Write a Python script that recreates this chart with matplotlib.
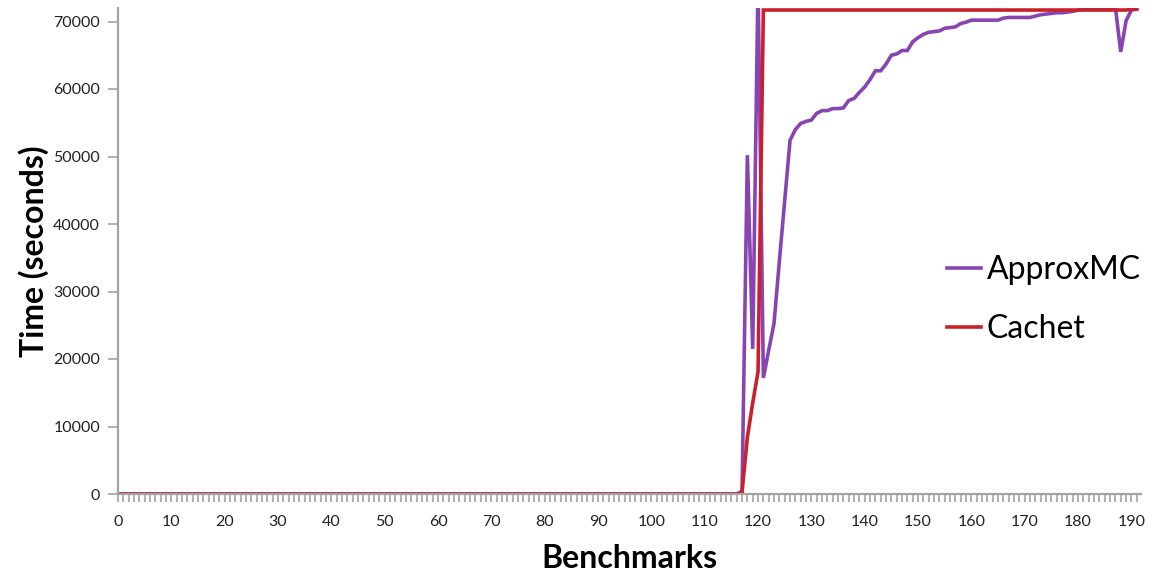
import matplotlib
matplotlib.use("Agg")
import matplotlib.pyplot as plt
from matplotlib.ticker import MultipleLocator

OUTPUT_IMAGE = "out.png"

# benchmark index 0..191
benchmarks = list(range(192))

# ApproxMC: flat near zero up to benchmark 117
approxmc_low = [0] * 117
approxmc_high = [
    300, 50200, 21500, 76000, 17200, 21300, 25300, 34500, 43500, 52400,   # 117-126
    54000, 54900, 55200, 55400, 56400, 56800, 56800, 57100, 57100, 57200,  # 127-136
    58300, 58600, 59500, 60300, 61400, 62700, 62700, 63700, 65000, 65200,  # 137-146
    65700, 65700, 67000, 67600, 68100, 68400, 68500, 68600, 69000, 69100,  # 147-156
    69200, 69700, 69900, 70200, 70200, 70200, 70200, 70200, 70200, 70500,  # 157-166
    70600, 70600, 70600, 70600, 70600, 70800, 71000, 71100, 71200, 71300,  # 167-176
    71300, 71400, 71500, 71700, 71800, 72000, 72100, 72100, 72100, 72100,  # 177-186
    72100, 65500, 70100, 71700, 71800,                                     # 187-191
]
approxmc = approxmc_low + approxmc_high

# Cachet
cachet_low = [0] * 117
cachet_high = [300, 8400, 13500, 18100] + [71700] * 69 + [71800, 71900]
cachet = cachet_low + cachet_high

PURPLE = "#8845B2"
RED = "#C9202B"
GREY = "#A3A3A3"


def main():
    plt.rcParams["font.family"] = ["Lato", "DejaVu Sans"]

    fig = plt.figure(figsize=(11.59, 5.76), dpi=100)
    ax = fig.add_axes([118 / 1159, 82 / 576, (1141 - 118) / 1159, (494 - 8) / 576])

    ax.plot(benchmarks, approxmc, color=PURPLE, lw=2.6, label="ApproxMC", solid_joinstyle="miter")
    ax.plot(benchmarks, cachet, color=RED, lw=2.6, label="Cachet", solid_joinstyle="miter")

    ax.set_xlim(0, 191.8)
    ax.set_ylim(0, 72000)

    ax.xaxis.set_major_locator(MultipleLocator(10))
    ax.xaxis.set_minor_locator(MultipleLocator(1))
    ax.yaxis.set_major_locator(MultipleLocator(10000))

    for side in ["top", "right"]:
        ax.spines[side].set_visible(False)
    for side in ["left", "bottom"]:
        ax.spines[side].set_color(GREY)
        ax.spines[side].set_linewidth(1.6)

    ax.tick_params(axis="x", which="both", direction="out", color=GREY, width=1.2, length=6,
                   labelsize=11.5, pad=9, labelcolor="#222222")
    ax.tick_params(axis="y", which="major", direction="out", color=GREY, width=1.2, length=7,
                   labelsize=11.5, pad=6, labelcolor="#222222")

    ax.set_xlabel("Benchmarks", fontsize=23, fontweight="bold", labelpad=11)
    ax.set_ylabel("Time (seconds)", fontsize=23, fontweight="bold", labelpad=3)

    fig.legend(loc="upper left", bbox_to_anchor=(947 / 1159, 1 - 255 / 576),
               frameon=False, fontsize=23, handlelength=1.05, handletextpad=0.2,
               labelspacing=0.9, borderpad=0, borderaxespad=0)

    fig.savefig(OUTPUT_IMAGE, dpi=100)


if __name__ == "__main__":
    main()
